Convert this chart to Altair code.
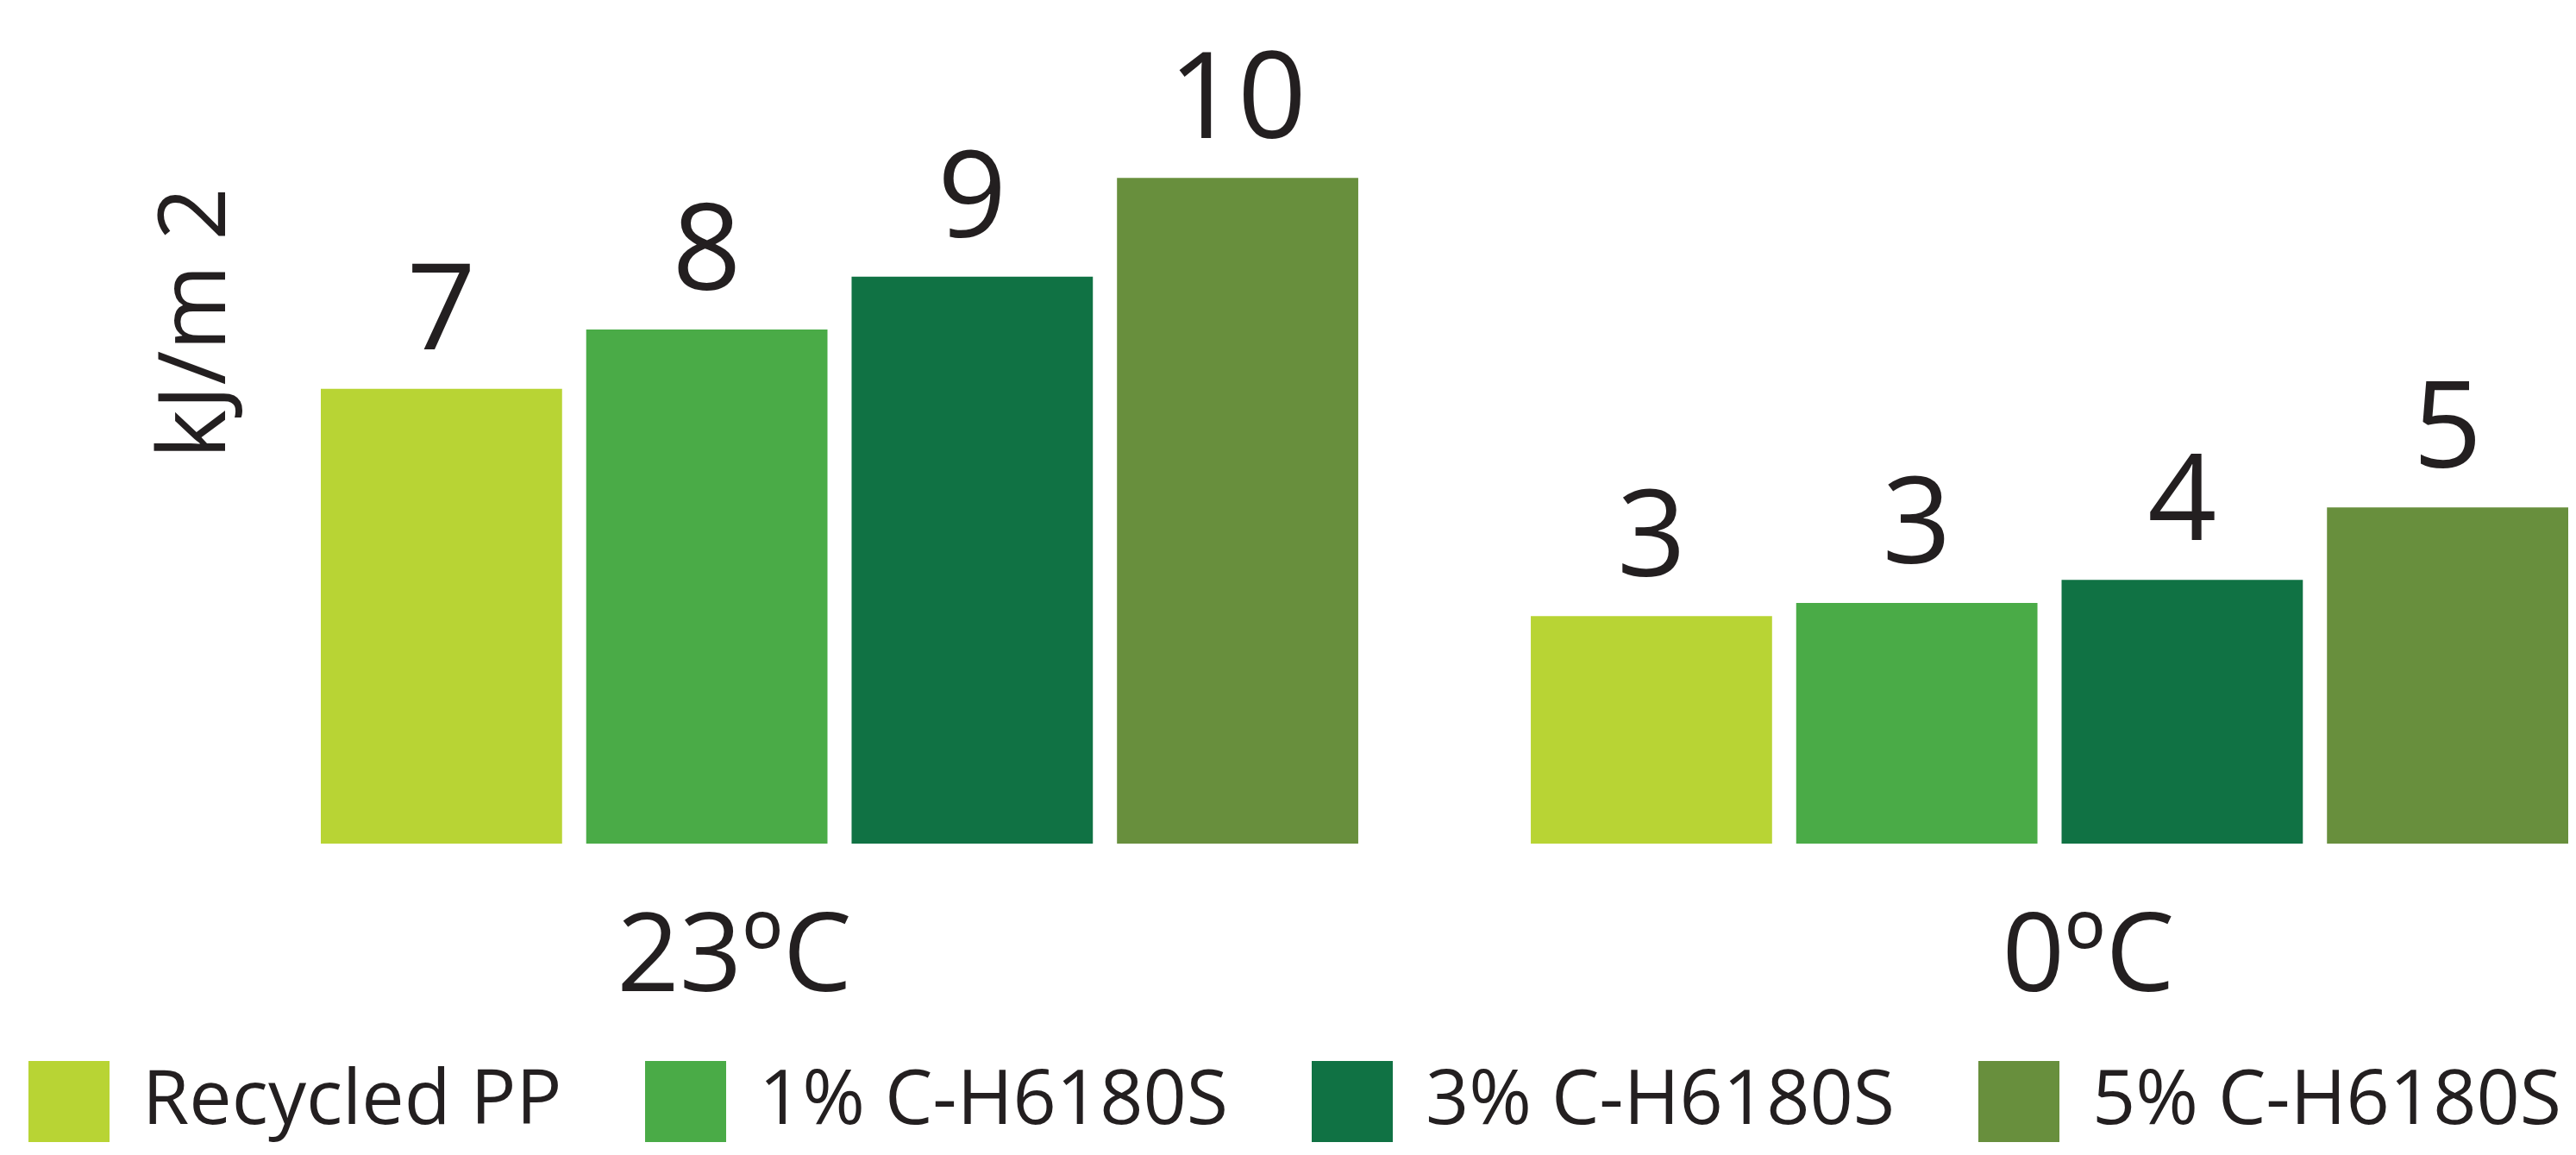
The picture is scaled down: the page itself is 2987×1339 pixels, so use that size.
import altair as alt
import pandas as pd

groups = ["23ºC", "0ºC"]
series = ["Recycled PP", "1% C-H6180S", "3% C-H6180S", "5% C-H6180S"]
colors = ["#b8d434", "#4aab47", "#107244", "#688f3d"]
values_23 = [6.9, 7.8, 8.6, 10.1]
values_0 = [3.45, 3.65, 4.0, 5.1]
labels_23 = ["7", "8", "9", "10"]
labels_0 = ["3", "3", "4", "5"]

rows = []
for g, vals, labs in [(groups[0], values_23, labels_23), (groups[1], values_0, labels_0)]:
    for s, v, l in zip(series, vals, labs):
        rows.append({"group": g, "series": s, "value": v, "label": l})
df = pd.DataFrame(rows)

FONT = "Open Sans"
TEXT = "#231f20"

x_enc = alt.X(
    "group:N",
    sort=groups,
    scale=alt.Scale(paddingInner=0.1426, paddingOuter=0),
    axis=alt.Axis(
        title=None, ticks=False, tickSize=0, domain=False, grid=False,
        labelFontSize=127, labelFont=FONT, labelColor=TEXT, labelLimit=2000,
        labelBaseline="alphabetic", labelPadding=170, labelAngle=0,
        labelOffset={"condition": {"test": "datum.value === '23ºC'", "value": -122}, "value": 45},
    ),
)
xoff_enc = alt.XOffset("series:N", sort=series, scale=alt.Scale(paddingInner=0.0909, paddingOuter=0))
y_enc = alt.Y(
    "value:Q",
    scale=alt.Scale(domain=[0, 12], nice=False, zero=True),
    axis=alt.Axis(
        title="kJ/m 2", labels=False, ticks=False, domain=False, grid=False,
        titleFontSize=108, titleFont=FONT, titleColor=TEXT, titleFontWeight="normal",
        titleAngle=270, titleX=-112, titleY=313, titleAlign="center", titleBaseline="alphabetic",
    ),
)

color_enc = alt.Color(
    "series:N",
    sort=series,
    scale=alt.Scale(domain=series, range=colors),
    legend=alt.Legend(
        title=None, orient="none", legendX=-339, legendY=1169, direction="horizontal",
        columns=4, columnPadding=96, gridAlign="each", symbolType="square", symbolSize=8836,
        symbolStrokeWidth=0, symbolOpacity=1, labelFontSize=88, labelFont=FONT,
        labelColor=TEXT, labelOffset=38, labelLimit=2000, padding=0, offset=0,
    ),
)

base = alt.Chart(df).encode(x=x_enc, xOffset=xoff_enc, y=y_enc)

bars = base.mark_bar().encode(color=color_enc)
text = base.mark_text(
    baseline="alphabetic", align="center", dy=-46, fontSize=140, font=FONT, color=TEXT
).encode(text="label:N")

chart = (
    alt.layer(bars, text)
    .properties(
        width=2606,
        height=917,
        autosize=alt.AutoSizeParams(type="none"),
        padding={"left": 364, "top": 53, "right": 0, "bottom": 352},
        background="white",
    )
    .configure(font=FONT)
    .configure_view(stroke="transparent", strokeWidth=0)
)

chart.save("out.html", embed_options={"renderer": "svg", "actions": False})
